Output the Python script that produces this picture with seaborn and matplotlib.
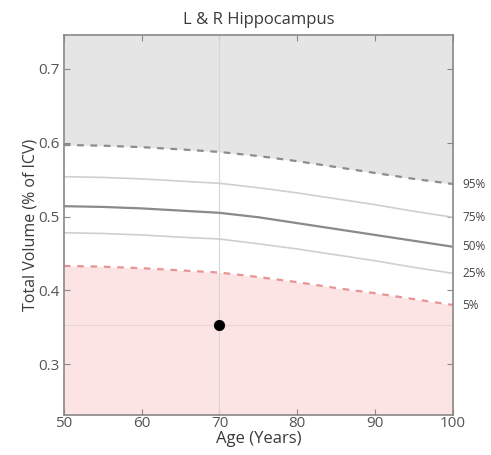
import numpy as np
import pandas as pd
import matplotlib
matplotlib.use("Agg")
import matplotlib.pyplot as plt
import seaborn as sns

# Normative percentile curves
ages = [50, 55, 60, 65, 70, 75, 80, 85, 90, 95, 100]
p95 = [0.597, 0.596, 0.594, 0.591, 0.5875, 0.582, 0.575, 0.567, 0.559, 0.551, 0.544]
p75 = [0.554, 0.553, 0.551, 0.548, 0.545, 0.539, 0.532, 0.524, 0.516, 0.507, 0.499]
p50 = [0.514, 0.513, 0.511, 0.508, 0.505, 0.499, 0.491, 0.483, 0.475, 0.467, 0.459]
p25 = [0.478, 0.477, 0.475, 0.472, 0.4695, 0.463, 0.456, 0.448, 0.440, 0.431, 0.423]
p05 = [0.433, 0.432, 0.430, 0.427, 0.424, 0.418, 0.411, 0.403, 0.396, 0.388, 0.380]
pct_labels = ["95%", "75%", "50%", "25%", "5%"]

# Subject measurement
subj_age = [70]
subj_vol = [0.353]

title = "L & R Hippocampus"
xlabel = "Age (Years)"
ylabel = "Total Volume (% of ICV)"

sns.set_style("ticks")
plt.rcParams["font.family"] = ["Open Sans", "DejaVu Sans"]

df = pd.DataFrame({"age": ages, "p95": p95, "p75": p75, "p50": p50,
                   "p25": p25, "p05": p05})

fig = plt.figure(figsize=(4.91, 4.55), dpi=100)
ax = fig.add_axes([0.130, 0.088, 0.7926, 0.835])

ymin, ymax = 0.231, 0.746
ax.fill_between(df["age"], df["p95"], ymax, color="#e5e5e5", lw=0, zorder=0)
ax.fill_between(df["age"], ymin, df["p05"], color="#fde4e4", lw=0, zorder=0)

# reference lines through the subject's point
ax.axvline(subj_age[0], color="#d5d5d5", lw=0.8, zorder=1)
ax.axhline(subj_vol[0], color="#ead3d3", lw=0.8, zorder=1)

styles = {
    "p95": dict(color="#8c8c8c", lw=1.6, ls=(0, (3, 3))),
    "p75": dict(color="#cfcfcf", lw=1.2, ls="-"),
    "p50": dict(color="#8a8a8a", lw=1.6, ls="-"),
    "p25": dict(color="#cfcfcf", lw=1.2, ls="-"),
    "p05": dict(color="#e69595", lw=1.6, ls=(0, (3, 3))),
}
for col, st in styles.items():
    sns.lineplot(data=df, x="age", y=col, ax=ax, color=st["color"],
                 linewidth=st["lw"], linestyle=st["ls"], zorder=2)

sns.scatterplot(x=subj_age, y=subj_vol, ax=ax, color="black", s=55,
                edgecolor="black", zorder=5)

# percentile labels just outside the right edge
for col, lab in zip(["p95", "p75", "p50", "p25", "p05"], pct_labels):
    ax.text(101.2, df[col].iloc[-1], lab, fontsize=8.5, color="#444444",
            va="center", ha="left", clip_on=False)

ax.set_xlim(50, 100)
ax.set_ylim(ymin, ymax)
ax.set_xticks([50, 60, 70, 80, 90, 100])
ax.set_yticks([0.3, 0.4, 0.5, 0.6, 0.7])
ax.tick_params(direction="in", length=4, width=0.8, colors="#888888",
               labelcolor="#555555", labelsize=11, top=True, right=True, pad=3)
ax.tick_params(axis="x", pad=1)
for sp in ax.spines.values():
    sp.set_color("#888888")
    sp.set_linewidth(1.2)

ax.set_title(title, fontsize=12, color="#3a3a3a", pad=8)
ax.set_xlabel(xlabel, fontsize=12, color="#3a3a3a", labelpad=0)
ax.set_ylabel(ylabel, fontsize=11.5, color="#3a3a3a", labelpad=0)

fig.savefig("out.png", dpi=100)
